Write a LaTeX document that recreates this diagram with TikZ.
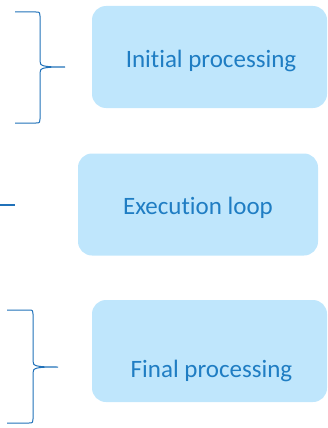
\documentclass[tikz,border=0pt]{standalone}
\usepackage{fontspec}
\setmainfont[Ligatures={NoCommon}]{Carlito}
\definecolor{boxfill}{HTML}{BFE6FC}
\definecolor{boxtext}{HTML}{1F7DC3}
\definecolor{bracecol}{HTML}{2071B9}
% brace: left end x, stem x, tip x, top y, tip y, bottom y
\newcommand{\sidebrace}[6]{%
    \draw[bracecol, line width=1pt]
        (#1,#4) -- ({#2-4},#4) .. controls (#2,#4) and (#2,{#4+1}) .. (#2,{#4+4})
        -- (#2,{#5-6}) .. controls (#2,{#5-1}) and ({#2+2},#5) .. (#3,#5)
        .. controls ({#2+2},#5) and (#2,{#5+1}) .. (#2,{#5+6})
        -- (#2,{#6-4}) .. controls (#2,{#6-1}) and (#2,#6) .. ({#2-4},#6) -- (#1,#6);
}
\begin{document}
\begin{tikzpicture}[
        x=1pt, y=-1pt,
        every node/.style={font=\fontsize{25}{30}\selectfont, text=boxtext}, % Calibri look
        box/.style={rectangle, rounded corners=14pt, fill=boxfill,
            minimum width=235pt, minimum height=102pt, inner sep=0pt}
    ]
        \useasboundingbox (0,0) rectangle (327,428);
        \node[box] (initial) at (209.5,57) {};
        \node[anchor=base] (initialtext) at (211,67) {Initial processing};
        \node[box, minimum width=240pt] (execution) at (198,204.5) {};
        \node[anchor=base] (executiontext) at (198,214) {Execution loop};
        \node[box] (final) at (209.5,351) {};
        \node[anchor=base] (finaltext) at (211.5,377) {Final processing};
        \sidebrace{15}{40}{65}{12}{67}{123}
        \draw[bracecol, line width=1.2pt] (0,205) -- (15,205);
        \sidebrace{7}{33}{58}{310}{367}{423}
\end{tikzpicture}
\end{document}
